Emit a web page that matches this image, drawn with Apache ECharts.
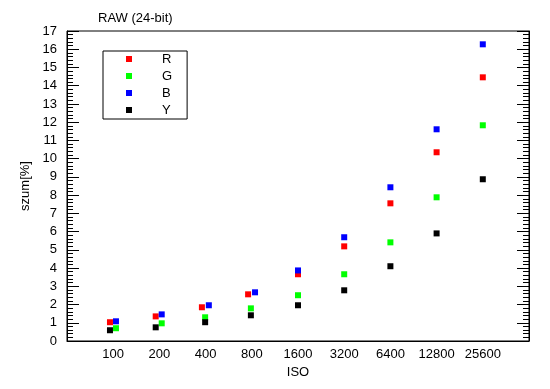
<!DOCTYPE html>
<html>
<head>
<meta charset="utf-8">
<script src="https://cdn.jsdelivr.net/npm/echarts@6/dist/echarts.min.js"></script>
<style>html,body{margin:0;padding:0;background:#fff}#c{width:550px;height:389px}</style>
</head>
<body>
<div id="c"></div>
<script>
// ISO categories (tick labels on the x axis, at positions 1..9)
var isoLabels = ['100','200','400','800','1600','3200','6400','12800','25600'];
// x positions (log2 steps, ISO 100 = 1)
var xR = [0.93, 1.92, 2.92, 3.92, 5, 6, 7, 8, 9];
var xG = [1.06, 2.05, 2.99, 3.98, 5, 6, 7, 8, 9];
var xB = [1.06, 2.05, 3.07, 4.07, 5, 6, 7, 8, 9];
var xY = [0.93, 1.92, 2.99, 3.98, 5, 6, 7, 8, 9];
// noise values szum[%]
var valR = [1.03, 1.35, 1.85, 2.56, 3.66, 5.19, 7.55, 10.35, 14.46];
var valG = [0.70, 0.97, 1.30, 1.79, 2.51, 3.66, 5.41, 7.88, 11.83];
var valB = [1.08, 1.46, 1.96, 2.67, 3.87, 5.69, 8.43, 11.61, 16.27];
var valY = [0.59, 0.75, 1.03, 1.41, 1.96, 2.78, 4.10, 5.90, 8.87];
var seriesNames = ['R', 'G', 'B', 'Y'];
var seriesColors = ['#ff0000', '#00ff00', '#0000ff', '#000000'];

function pairs(xs, ys) { return xs.map(function (x, i) { return [x, ys[i]]; }); }
var allX = [xR, xG, xB, xY];
var allV = [valR, valG, valB, valY];

var FONT = 'Liberation Sans, Arial, sans-serif';
var chart = echarts.init(document.getElementById('c'), null, {renderer: 'canvas'});
var yCommon = {
  type: 'value', min: 0, max: 17, interval: 1,
  axisLine: {show: true, lineStyle: {color: '#000', width: 1}},
  axisTick: {show: true, inside: true, length: 12, lineStyle: {color: '#000'}},
  minorTick: {show: true, splitNumber: 5, length: 6, lineStyle: {color: '#000'}},
  splitLine: {show: false}
};
chart.setOption({
  animation: false,
  backgroundColor: '#fff',
  title: {
    text: 'RAW (24-bit)', left: 98, top: 12, padding: 0,
    textStyle: {fontFamily: FONT, fontSize: 13, fontWeight: 'normal', color: '#000'}
  },
  legend: {
    orient: 'vertical', left: 103, top: 51,
    padding: [1, 15, 2, 23],
    itemGap: 3, itemWidth: 6, itemHeight: 6,
    borderColor: '#000', borderWidth: 1,
    icon: 'rect',
    data: seriesNames,
    textStyle: {fontFamily: FONT, fontSize: 13, color: '#000', lineHeight: 14, padding: [0, 0, 0, 25]}
  },
  grid: {left: 67, right: 21, top: 31, bottom: 48, show: true, borderColor: '#000', borderWidth: 1, backgroundColor: 'transparent'},
  xAxis: {
    type: 'value', min: 0, max: 10, interval: 1,
    name: 'ISO', nameLocation: 'middle', nameGap: 23,
    nameTextStyle: {fontFamily: FONT, fontSize: 13, color: '#000'},
    axisLine: {show: true, lineStyle: {color: '#000'}},
    axisTick: {show: false},
    splitLine: {show: false},
    axisLabel: {
      fontFamily: FONT, fontSize: 13, color: '#000', margin: 7,
      formatter: function (v) { return isoLabels[v - 1] || ''; }
    }
  },
  yAxis: [
    Object.assign({}, yCommon, {
      position: 'left',
      name: 'szum[%]', nameLocation: 'middle', nameGap: 26,
      nameTextStyle: {fontFamily: FONT, fontSize: 13, color: '#000'},
      axisLabel: {fontFamily: FONT, fontSize: 13, color: '#000', margin: 10}
    }),
    Object.assign({}, yCommon, {position: 'right', axisLabel: {show: false}})
  ],
  series: seriesNames.map(function (n, i) {
    return {
      name: n, type: 'scatter', symbol: 'rect', symbolSize: 6,
      itemStyle: {color: seriesColors[i], opacity: 1},
      data: pairs(allX[i], allV[i])
    };
  })
});
</script>
</body>
</html>
